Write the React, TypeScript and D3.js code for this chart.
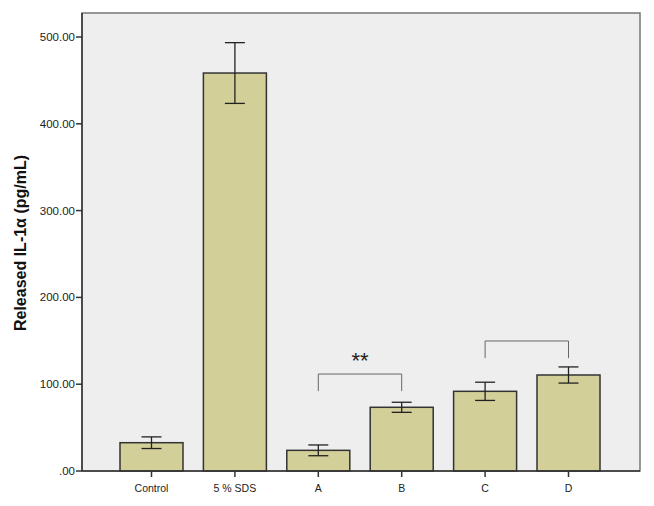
import React from "react";
import * as d3 from "d3";

const categories = ["Control", "5 % SDS", "A", "B", "C", "D"];
const means = [32.6, 458.5, 23.8, 73.4, 91.8, 110.6];
const errors = [6.7, 35, 6.2, 5.8, 10.5, 9.3];
const yTicks = [0, 100, 200, 300, 400, 500];
// brackets: [from, to, top value, leg bottom value, label]
const brackets: [string, string, number, number, string][] = [
  ["A", "B", 111.7, 92, "**"],
  ["C", "D", 149.8, 130, ""],
];

const W = 654;
const H = 506;
const left = 82;
const right = 640;
const top = 13;
const bottom = 471;
const barW = 63;

const fmt = (v: number) => (v === 0 ? ".00" : v.toFixed(2));

export default function App() {
  const x = d3.scalePoint<string>().domain(categories).range([151.5, 568.5]);
  const y = d3.scaleLinear().domain([0, 500]).range([bottom, 37]);
  const font = "Arial, 'Liberation Sans', sans-serif";

  return (
    <svg width={W} height={H} style={{ position: "absolute", left: 0, top: 0 }}>
      <rect x={0} y={0} width={W} height={H} fill="#fff" />
      <rect x={left} y={top} width={right - left} height={bottom - top} fill="#eeeeee" stroke="#777" strokeWidth={1.5} />

      {categories.map((c, i) => {
        const cx = x(c)!;
        return (
          <g key={c}>
            <rect x={cx - barW / 2} y={y(means[i])} width={barW} height={bottom - y(means[i])}
              fill="#d3cf98" stroke="#333" strokeWidth={1.5} />
            <line x1={cx} x2={cx} y1={y(means[i] + errors[i])} y2={y(means[i] - errors[i])} stroke="#222" strokeWidth={1.3} />
            <line x1={cx - 10} x2={cx + 10} y1={y(means[i] + errors[i])} y2={y(means[i] + errors[i])} stroke="#222" strokeWidth={1.3} />
            <line x1={cx - 10} x2={cx + 10} y1={y(means[i] - errors[i])} y2={y(means[i] - errors[i])} stroke="#222" strokeWidth={1.3} />
            <line x1={cx} x2={cx} y1={bottom} y2={bottom + 6} stroke="#333" strokeWidth={1.5} />
            <text x={cx} y={bottom + 21} textAnchor="middle" fontFamily={font} fontSize={10.5} fill="#222">{c}</text>
          </g>
        );
      })}

      <line x1={left} x2={right} y1={bottom} y2={bottom} stroke="#333" strokeWidth={1.5} />
      <line x1={left} x2={left} y1={top} y2={bottom} stroke="#333" strokeWidth={1.5} />

      {yTicks.map((t) => (
        <g key={t}>
          <line x1={left - 6} x2={left} y1={y(t)} y2={y(t)} stroke="#333" strokeWidth={1.5} />
          <text x={left - 7} y={y(t) + 4} textAnchor="end" fontFamily={font} fontSize={11.5} fill="#222">{fmt(t)}</text>
        </g>
      ))}

      {brackets.map(([a, b, yt, yb, label]) => {
        const x1 = x(a)!;
        const x2 = x(b)!;
        return (
          <g key={a + b}>
            <path d={`M${x1},${y(yb)}V${y(yt)}H${x2}V${y(yb)}`} fill="none" stroke="#666" strokeWidth={1} />
            {label && (
              <text x={(x1 + x2) / 2} y={y(yt) - 6} textAnchor="middle" fontFamily={font} fontSize={22} fill="#222">{label}</text>
            )}
          </g>
        );
      })}

      <text transform={`translate(26,243) rotate(-90)`} textAnchor="middle" fontFamily={font}
        fontSize={16} fontWeight="bold" fill="#111">Released IL-1α (pg/mL)</text>
    </svg>
  );
}
